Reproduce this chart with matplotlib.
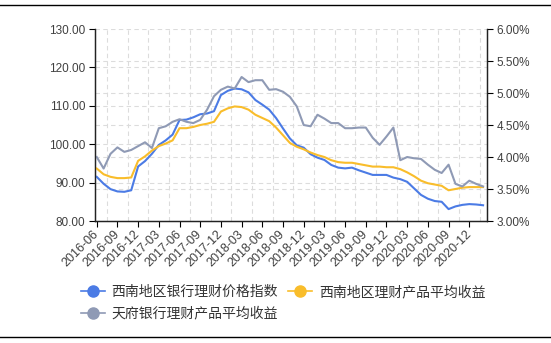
import numpy as np
import matplotlib
matplotlib.use("Agg")
import matplotlib.pyplot as plt
from matplotlib.lines import Line2D

plt.rcParams['font.family'] = ['Liberation Sans', 'Noto Sans CJK SC', 'DejaVu Sans']

# monthly data 2016-06 .. 2021-02
months = [f"{2016 + (5 + i) // 12}-{(5 + i) % 12 + 1:02d}" for i in range(57)]

price_index = [91.5, 89.7, 88.3, 87.7, 87.6, 88.0, 94.2, 95.6, 97.5, 99.8,
               101.0, 102.5, 106.3, 106.4, 107.0, 107.8, 108.0, 108.6, 112.8, 113.9,
               114.5, 114.3, 113.5, 111.5, 110.3, 109.0, 106.8, 104.1, 101.5, 99.7,
               99.1, 97.4, 96.5, 95.9, 94.6, 93.9, 93.7, 93.9, 93.2, 92.6,
               92.0, 92.0, 92.0, 91.3, 90.9, 90.2, 88.5, 86.8, 85.8, 85.2,
               85.0, 83.1, 83.8, 84.2, 84.4, 84.3, 84.1]

sw_yield = [3.82, 3.73, 3.69, 3.67, 3.67, 3.68, 3.94, 4.01, 4.10, 4.17,
            4.21, 4.26, 4.45, 4.45, 4.47, 4.50, 4.52, 4.55, 4.71, 4.76,
            4.79, 4.78, 4.74, 4.66, 4.61, 4.56, 4.46, 4.34, 4.22, 4.16,
            4.12, 4.07, 4.03, 4.00, 3.95, 3.92, 3.91, 3.91, 3.89, 3.87,
            3.85, 3.85, 3.84, 3.84, 3.81, 3.76, 3.70, 3.63, 3.59, 3.57,
            3.55, 3.48, 3.50, 3.52, 3.53, 3.53, 3.53]

tf_yield = [4.00, 3.82, 4.05, 4.15, 4.08, 4.11, 4.17, 4.23, 4.14, 4.45,
            4.48, 4.55, 4.59, 4.55, 4.53, 4.58, 4.74, 4.95, 5.05, 5.10,
            5.07, 5.25, 5.17, 5.20, 5.20, 5.05, 5.06, 5.02, 4.94, 4.79,
            4.50, 4.48, 4.66, 4.60, 4.53, 4.53, 4.45, 4.45, 4.46, 4.46,
            4.30, 4.19, 4.32, 4.46, 3.95, 4.00, 3.98, 3.97, 3.88, 3.80,
            3.75, 3.88, 3.58, 3.54, 3.63, 3.58, 3.54]

series_names = ["西南地区银行理财价格指数", "西南地区理财产品平均收益", "天府银行理财产品平均收益"]
colors = ["#4b7be5", "#f9bd2b", "#8f9ab5"]

left_ticks = np.arange(80, 131, 10)
right_ticks = np.arange(3.0, 6.01, 0.5)

fig = plt.figure(figsize=(5.51, 3.43), dpi=100)
ax = fig.add_axes([95 / 551, 1 - 221 / 343, 392 / 551, 192 / 343])
ax2 = ax.twinx()

x = np.arange(len(months))
ax.plot(x, price_index, color=colors[0], lw=1.5, zorder=3)
ax2.plot(x, sw_yield, color=colors[1], lw=1.5)
ax2.plot(x, tf_yield, color=colors[2], lw=1.5)

ax.set_xlim(-0.25, 56.57)
ax.set_ylim(80, 130)
ax2.set_ylim(3.0, 6.0)

ax.set_xticks(x[::3])
ax.set_xticklabels(months[::3], rotation=45, ha='right', va='center',
                   rotation_mode='anchor', fontsize=9, color='#404040')
ax.set_xticks(np.arange(1.5, 57, 3), minor=True)
ax.set_yticks(left_ticks)
ax.set_yticklabels([f"{v:.2f}" for v in left_ticks], fontsize=8.5, color='#404040')
# right-axis levels expressed on the left scale, only for the grid
ax.set_yticks(80 + (right_ticks - 3.0) / 3.0 * 50, minor=True)
ax2.set_yticks(right_ticks)
ax2.set_yticklabels([f"{v:.2f}%" for v in right_ticks], fontsize=8.5, color='#404040')

ax.tick_params(axis='x', which='major', length=4, pad=4)
ax.tick_params(axis='y', which='major', length=4, pad=3)
ax.tick_params(which='minor', length=0)
ax2.tick_params(axis='y', length=4, pad=3)

grid_style = dict(color='#dcdcdc', linestyle=(0, (4, 3)), linewidth=0.8)
ax.xaxis.grid(True, which='minor', **grid_style)
ax.yaxis.grid(True, which='both', **grid_style)
ax.set_axisbelow(True)

for a in (ax, ax2):
    a.spines['top'].set_visible(False)
    for s in ('left', 'right', 'bottom'):
        a.spines[s].set_color('#222222')
        a.spines[s].set_linewidth(0.9)

# frame lines top and bottom
fig.add_artist(Line2D([0, 1], [1 - 5 / 343, 1 - 5 / 343], color='black', lw=1))
fig.add_artist(Line2D([0, 1], [1 - 337 / 343, 1 - 337 / 343], color='black', lw=1))

handles = [Line2D([], [], color=c, lw=1.2, marker='o', markersize=8,
                  markerfacecolor=c, markeredgecolor=c) for c in colors]
order = [0, 2, 1]
fig.legend([handles[i] for i in order], [series_names[i] for i in order],
           ncol=2, loc='upper left', bbox_to_anchor=(81 / 551, 1 - 285 / 343),
           frameon=False, handlelength=1.7, handletextpad=0.5,
           columnspacing=0.75, labelspacing=0.55, borderaxespad=0, borderpad=0,
           labelcolor='#333333', prop={'family': ['Noto Sans CJK SC'], 'size': 10})

fig.savefig("out.png", dpi=100)
